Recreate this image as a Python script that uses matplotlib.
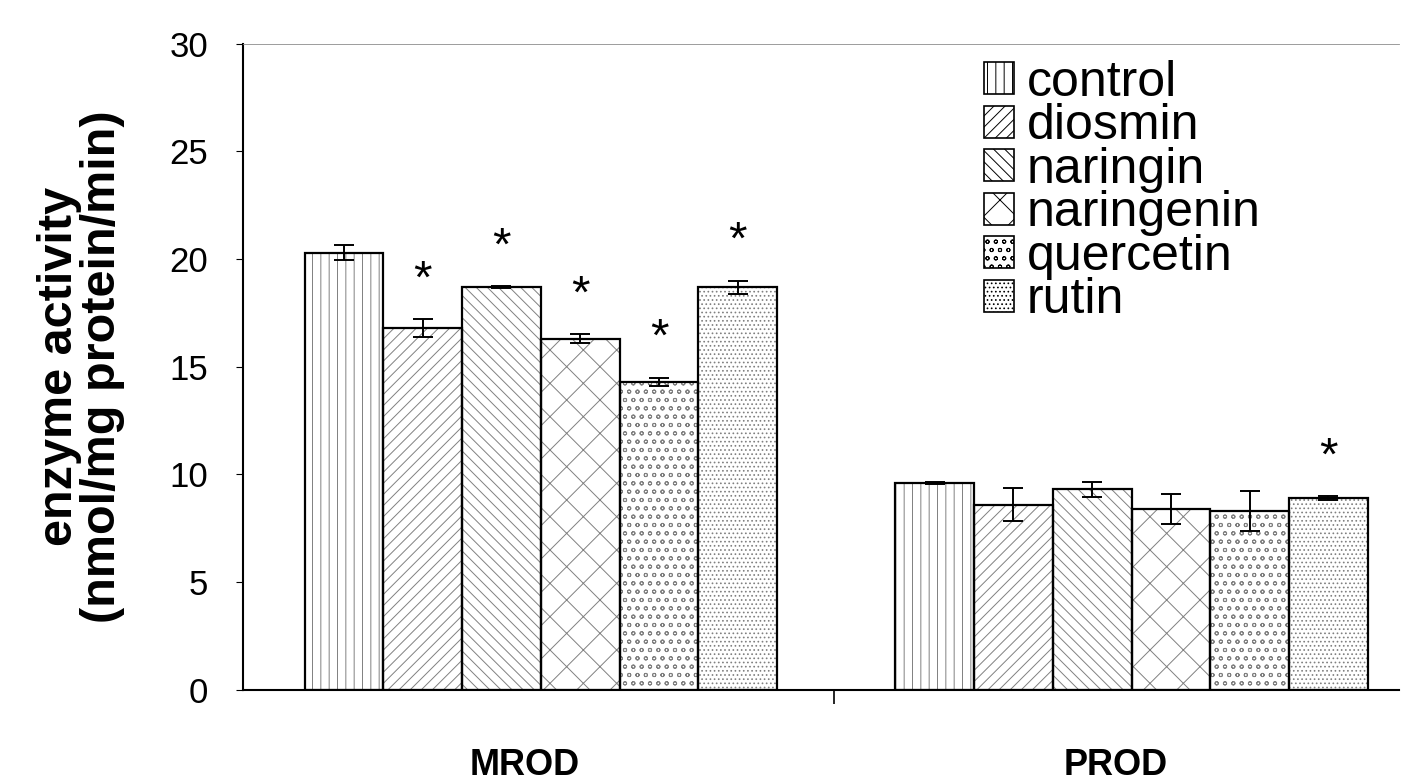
import numpy as np
import matplotlib
matplotlib.use("Agg")
from matplotlib import pyplot as plt
from matplotlib.patches import Patch

plt.rcParams['font.family'] = ['Liberation Sans', 'DejaVu Sans']
plt.rcParams['hatch.linewidth'] = 0.7

groups = ["MROD", "PROD"]
treatments = ["control", "diosmin", "naringin", "naringenin", "quercetin", "rutin"]
mrod_mean = [20.3, 16.8, 18.7, 16.3, 14.3, 18.7]
mrod_err = [0.35, 0.4, 0.05, 0.2, 0.2, 0.3]
prod_mean = [9.6, 8.6, 9.3, 8.4, 8.3, 8.9]
prod_err = [0.05, 0.75, 0.35, 0.7, 0.95, 0.08]
mrod_star = [False, True, True, True, True, True]
prod_star = [False, False, False, False, False, True]
hatches = ["||", "///", "\\\\\\", "x", "oo", "...."]

fig = plt.figure(figsize=(14.05, 7.82), dpi=100)
ax = fig.add_axes([0.173, 0.118, 0.823, 0.826])

group_start = [0.0, 7.5]
means = [mrod_mean, prod_mean]
errs = [mrod_err, prod_err]
stars = [mrod_star, prod_star]

for g in range(2):
    x = group_start[g] + np.arange(6)
    # hatch layer in grey, outline in black on top
    for i in range(6):
        ax.bar(x[i], means[g][i], width=1.0, color="white", edgecolor="0.5",
               hatch=hatches[i], linewidth=0)
    ax.bar(x, means[g], width=1.0, fill=False, edgecolor="black", linewidth=1.6)
    ax.errorbar(x, means[g], yerr=errs[g], fmt="none", ecolor="black",
                elinewidth=1.4, capsize=7, capthick=1.4)
    for i in range(6):
        if stars[g][i]:
            ax.text(x[i], means[g][i] + errs[g][i] + 1.8, "*", ha="center",
                    va="center", fontsize=34)

ax.set_xlim(-1.28, 13.4)
ax.set_ylim(0, 30)
ax.set_yticks([0, 5, 10, 15, 20, 25, 30])
ax.tick_params(axis="y", labelsize=25, direction="out", length=5, width=0.8, pad=20)
ax.set_xticks([6.22])
ax.set_xticklabels([""])
ax.tick_params(axis="x", direction="out", length=10, width=1.2)

for i, name in enumerate(groups):
    ax.text(group_start[i] + 2.3, -0.09, name, transform=ax.get_xaxis_transform(),
            ha="center", va="top", fontsize=26, fontweight="bold")

ax.set_ylabel("enzyme activity\n(nmol/mg protein/min)", fontsize=35,
              fontweight="bold", linespacing=0.95)
ax.yaxis.set_label_coords(-0.102, 0.5)

ax.spines["right"].set_visible(False)
ax.spines["top"].set_color("0.55")
ax.spines["top"].set_linewidth(0.6)
ax.spines["left"].set_linewidth(1.5)
ax.spines["bottom"].set_linewidth(1.5)

handles = [Patch(facecolor="white", edgecolor="black", hatch=h, linewidth=1.2)
           for h in hatches]
ax.legend(handles, treatments, loc="upper left", bbox_to_anchor=(0.641, 0.975),
          frameon=False, fontsize=36, handlelength=0.6, handleheight=0.6,
          handletextpad=0.25, labelspacing=-0.05, borderaxespad=0, borderpad=0)

fig.savefig("out.png", dpi=100, facecolor="white")
